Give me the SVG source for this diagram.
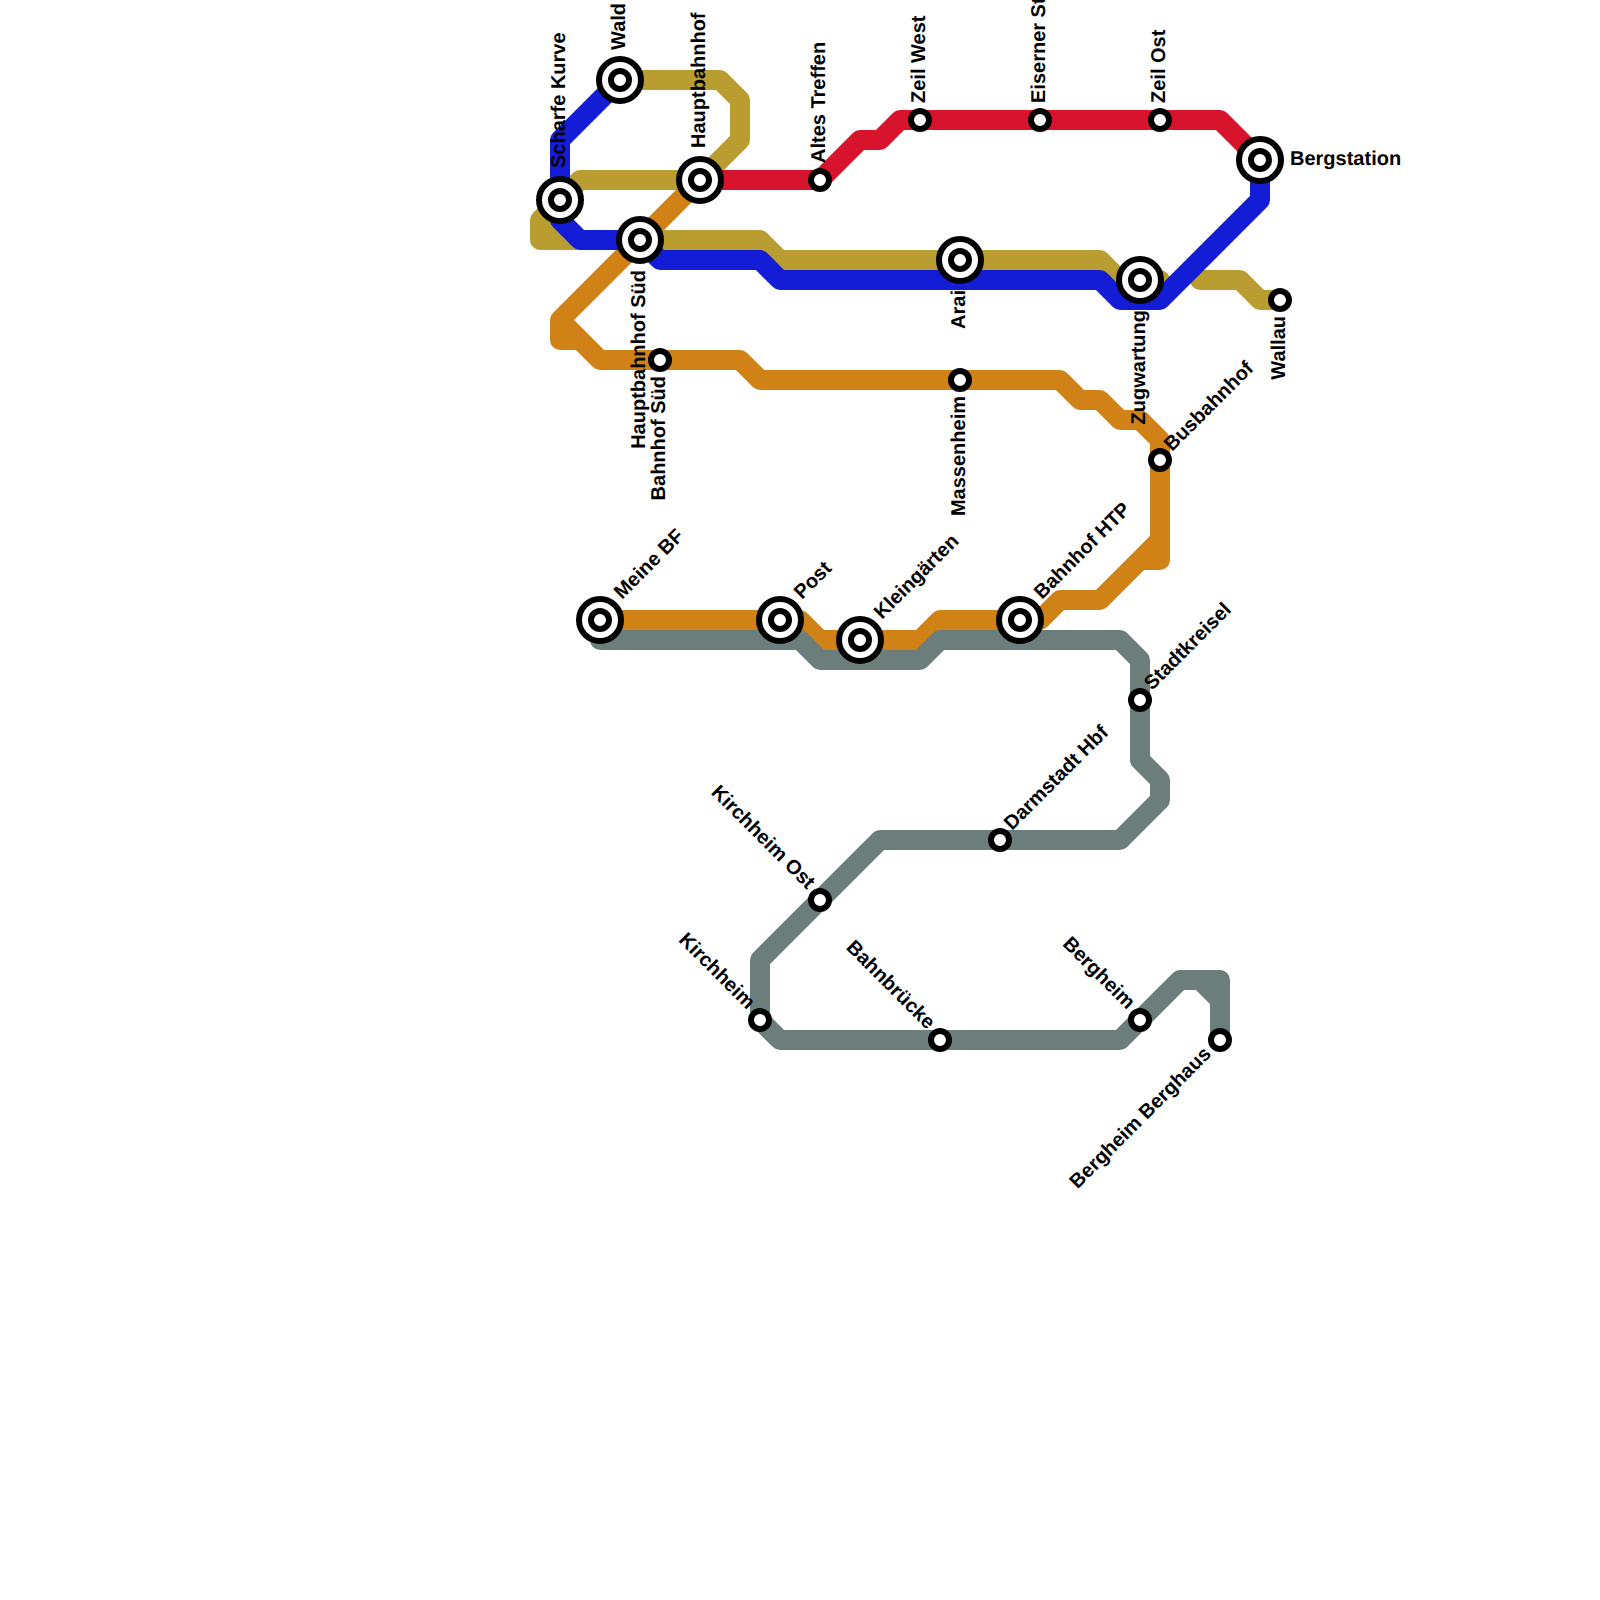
<svg xmlns="http://www.w3.org/2000/svg" width="1600" height="1600" viewBox="0 0 1600 1600">
<style>
.l{fill:none;stroke-width:20;stroke-linejoin:round;stroke-linecap:round}
.o,.s{fill:#fff;stroke:#000;stroke-width:6}
text{font-family:"Liberation Sans",Arial,sans-serif;font-size:20px;font-weight:bold;fill:#000;text-rendering:geometricPrecision}
.e{text-anchor:end}
</style>
<defs>
<g id="ix"><circle r="21" class="o"/><circle r="9" class="s"/></g>
<circle id="st" r="9" class="s"/>
</defs>
<rect width="1600" height="1600" fill="#fff"/>
<g id="connectors">
<path class="l" stroke="#D08217" d="M700 180L560 320L560 340L580 340L560 320M580 340L600 360L740 360L760 380L1060 380L1080 400L1100 400L1120 420L1140 420L1160 440L1160 560L1140 560L1160 540M1140 560L1100 600L1060 600L1040 620L940 620L920 640L820 640L800 620L600 620"/>
<path class="l" stroke="#6C7E7B" d="M600 640L800 640L820 660L920 660L940 640L1120 640L1140 660L1140 760L1160 780L1160 800L1120 840L880 840L760 960L760 1020L780 1040L1120 1040L1180 980L1220 980L1220 1040M1200 980L1220 1000"/>
<path class="l" stroke="#B99D30" d="M620 80L720 80L740 100L740 140L700 180L580 180L540 220L540 240L560 240L540 220M560 240L760 240L780 260L1100 260L1120 280L1160 280M1200 280L1240 280L1260 300L1280 300"/>
<path class="l" stroke="#D8132C" d="M700 180L820 180L860 140L880 140L900 120L1220 120L1260 160"/>
<path class="l" stroke="#141DD6" d="M620 80L560 140L560 220L580 240L640 240L660 260L760 260L780 280L1100 280L1120 300L1160 300L1260 200L1260 160"/>
</g>
<g id="n-scharfe-kurve"><use href="#ix" x="560" y="200"/><text transform="translate(565 168) rotate(-90)">Scharfe Kurve</text></g>
<g id="n-wald"><use href="#ix" x="620" y="80"/><text transform="translate(625 50) rotate(-90)">Wald</text></g>
<g id="n-hauptbahnhof"><use href="#ix" x="700" y="180"/><text transform="translate(705 148) rotate(-90)">Hauptbahnhof</text></g>
<g id="n-hauptbahnhof-sued"><use href="#ix" x="640" y="240"/><text class="e" transform="translate(645 270) rotate(-90)">Hauptbahnhof Süd</text></g>
<g id="n-altes-treffen"><use href="#st" x="820" y="180"/><text transform="translate(825 163) rotate(-90)">Altes Treffen</text></g>
<g id="n-zeil-west"><use href="#st" x="920" y="120"/><text transform="translate(925 103) rotate(-90)">Zeil West</text></g>
<g id="n-eiserner"><use href="#st" x="1040" y="120"/><text transform="translate(1045 103) rotate(-90)">Eiserner Steg</text></g>
<g id="n-zeil-ost"><use href="#st" x="1160" y="120"/><text transform="translate(1165 103) rotate(-90)">Zeil Ost</text></g>
<g id="n-bergstation"><use href="#ix" x="1260" y="160"/><text x="1290" y="165">Bergstation</text></g>
<g id="n-arai"><use href="#ix" x="960" y="260"/><text class="e" transform="translate(965 290) rotate(-90)">Arai</text></g>
<g id="n-zugwartung"><use href="#ix" x="1140" y="280"/><text class="e" transform="translate(1145 310) rotate(-90)">Zugwartung</text></g>
<g id="n-wallau"><use href="#st" x="1280" y="300"/><text class="e" transform="translate(1285 316) rotate(-90)">Wallau</text></g>
<g id="n-bahnhof-sued"><use href="#st" x="660" y="360"/><text class="e" transform="translate(665 376) rotate(-90)">Bahnhof Süd</text></g>
<g id="n-massenheim"><use href="#st" x="960" y="380"/><text class="e" transform="translate(965 396) rotate(-90)">Massenheim</text></g>
<g id="n-busbahnhof"><use href="#st" x="1160" y="460"/><text transform="translate(1172 452) rotate(-45)">Busbahnhof</text></g>
<g id="n-meine-bf"><use href="#ix" x="600" y="620"/><text transform="translate(622 600) rotate(-45)">Meine BF</text></g>
<g id="n-post"><use href="#ix" x="780" y="620"/><text transform="translate(802 600) rotate(-45)">Post</text></g>
<g id="n-kleingaerten"><use href="#ix" x="860" y="640"/><text transform="translate(882 620) rotate(-45)">Kleingärten</text></g>
<g id="n-bahnhof-htp"><use href="#ix" x="1020" y="620"/><text transform="translate(1042 600) rotate(-45)">Bahnhof HTP</text></g>
<g id="n-stadtkreisel"><use href="#st" x="1140" y="700"/><text transform="translate(1152 691) rotate(-45)">Stadtkreisel</text></g>
<g id="n-darmstadt"><use href="#st" x="1000" y="840"/><text transform="translate(1012 831) rotate(-45)">Darmstadt Hbf</text></g>
<g id="n-kirchheim-ost"><use href="#st" x="820" y="900"/><text class="e" transform="translate(807 890) rotate(45)">Kirchheim Ost</text></g>
<g id="n-kirchheim"><use href="#st" x="760" y="1020"/><text class="e" transform="translate(747 1010) rotate(45)">Kirchheim</text></g>
<g id="n-bahnbruecke"><use href="#st" x="940" y="1040"/><text class="e" transform="translate(927 1030) rotate(45)">Bahnbrücke</text></g>
<g id="n-bergheim"><use href="#st" x="1140" y="1020"/><text class="e" transform="translate(1127 1010) rotate(45)">Bergheim</text></g>
<g id="n-berghaus"><use href="#st" x="1220" y="1040"/><text class="e" transform="translate(1212 1055) rotate(-45)">Bergheim Berghaus</text></g>
</svg>
